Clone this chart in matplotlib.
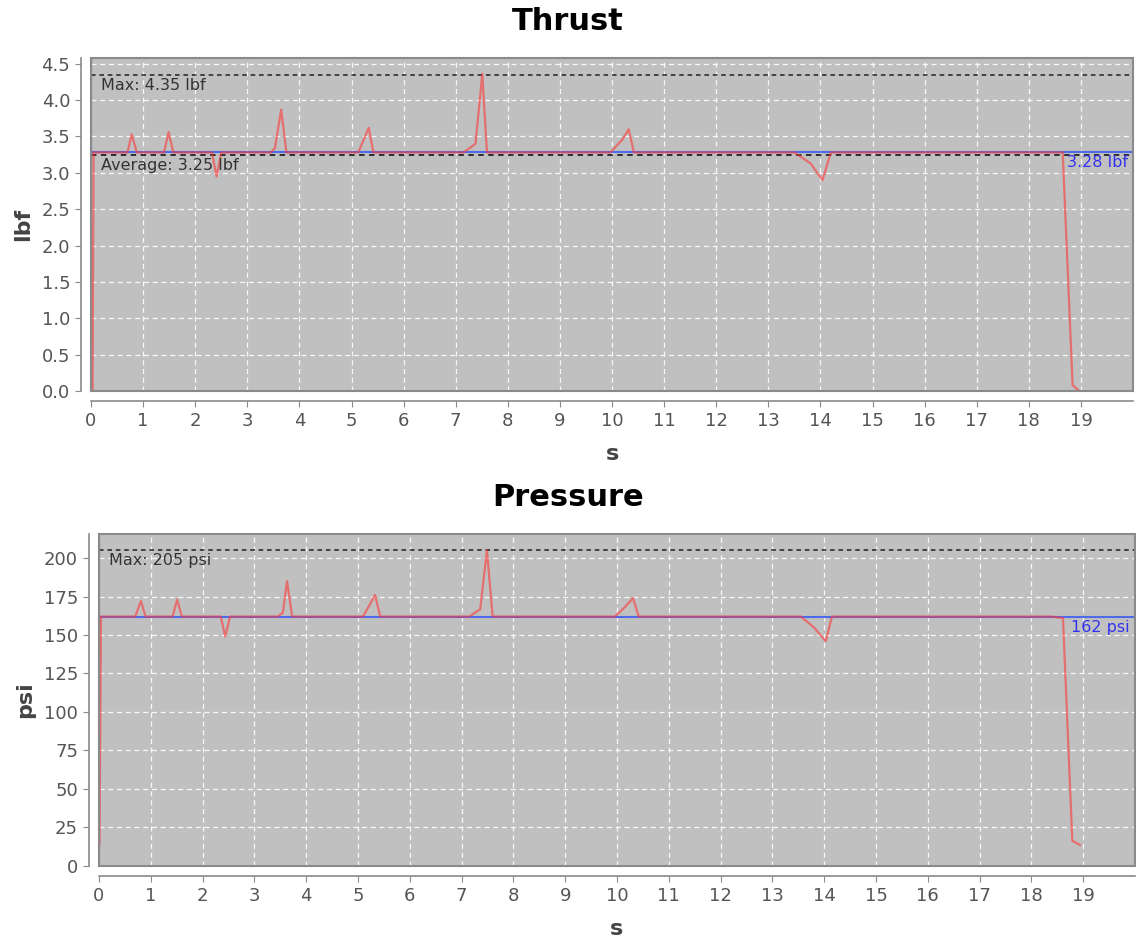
import matplotlib
matplotlib.use("Agg")
import matplotlib.pyplot as plt
from matplotlib.patches import Rectangle

# --- data ---
thrust_t = [0.03, 0.05, 0.70, 0.78, 0.88, 1.40, 1.49, 1.58, 2.32, 2.41, 2.50,
            3.45, 3.53, 3.65, 3.75, 5.13, 5.33, 5.42, 7.15, 7.38, 7.51, 7.60,
            9.97, 10.20, 10.32, 10.42, 13.50, 13.81, 14.04, 14.20, 18.65, 18.84, 18.97]
thrust_v = [0.0, 3.28, 3.28, 3.53, 3.28, 3.28, 3.56, 3.28, 3.28, 2.95, 3.28,
            3.28, 3.34, 3.87, 3.28, 3.28, 3.62, 3.28, 3.28, 3.40, 4.36, 3.28,
            3.28, 3.46, 3.60, 3.28, 3.28, 3.13, 2.90, 3.28, 3.28, 0.08, 0.0]
thrust_target = 3.28
thrust_avg = 3.25
thrust_max = 4.35

press_t = [0.01, 0.04, 0.70, 0.81, 0.90, 1.42, 1.51, 1.60, 2.35, 2.44, 2.53,
           3.45, 3.55, 3.63, 3.73, 5.10, 5.33, 5.43, 7.15, 7.36, 7.49, 7.60,
           9.96, 10.15, 10.31, 10.42, 13.55, 13.80, 14.03, 14.15, 18.38, 18.61, 18.79, 18.94]
press_v = [14, 162, 162, 172, 162, 162, 173, 162, 162, 149, 162,
           162, 164.5, 185, 162, 162, 176, 162, 162, 166.7, 205, 162,
           162, 168, 174, 162, 162, 155, 146, 162, 162, 161, 16.4, 13.6]
press_target = 162
press_max = 205

x_ticks = list(range(0, 20))
thrust_yticks = [0.0, 0.5, 1.0, 1.5, 2.0, 2.5, 3.0, 3.5, 4.0, 4.5]
press_yticks = [0, 25, 50, 75, 100, 125, 150, 175, 200]

RED = '#ff3838'
BLUE = '#4f6ae8'
GRAY_BG = '#c0c0c0'
EDGE = '#8a8a8a'
TXT = '#555555'

fig = plt.figure(figsize=(11.36, 9.38), dpi=100)
ax1 = fig.add_axes([0.0801, 0.5832, 0.9173, 0.3550])
ax2 = fig.add_axes([0.0871, 0.0768, 0.9120, 0.3539])


def style(ax, ylabel, yticks, ylim):
    ax.set_facecolor(GRAY_BG)
    ax.set_xlim(0, 20)
    ax.set_ylim(*ylim)
    ax.set_xticks(x_ticks)
    ax.set_yticks(yticks)
    if isinstance(yticks[1], float):
        ax.set_yticklabels([f"{v:.1f}" for v in yticks])
    ax.grid(True, color='white', ls=(0, (4, 3)), lw=0.9, alpha=0.9)
    ax.set_axisbelow(True)
    for s in ['top', 'right']:
        ax.spines[s].set_visible(False)
    for s in ['left', 'bottom']:
        ax.spines[s].set_position(('outward', 7))
        ax.spines[s].set_color(EDGE)
        ax.spines[s].set_linewidth(1.2)
    ax.add_patch(Rectangle((0, 0), 1, 1, transform=ax.transAxes, fill=False,
                           edgecolor=EDGE, lw=1.5, clip_on=False, zorder=10))
    ax.tick_params(direction='out', length=4, color=EDGE, labelsize=13,
                   labelcolor=TXT, pad=4)
    ax.set_xlabel('s', fontsize=16, fontweight='bold', color='#444444', labelpad=10)
    ax.set_ylabel(ylabel, fontsize=16, fontweight='bold', color='#444444', labelpad=6)


fig.text(0.5, 1 - 22 / 938, 'Thrust', ha='center', va='center',
         fontsize=22, fontweight='bold')
fig.text(0.5, 1 - 497 / 938, 'Pressure', ha='center', va='center',
         fontsize=22, fontweight='bold')

# Thrust
style(ax1, 'lbf', thrust_yticks, (0, 4.58))
ax1.axvline(0, color='#5a5aa8', lw=1.6, zorder=3)
ax1.axhline(thrust_target, color=BLUE, lw=1.5, zorder=3)
ax1.axhline(thrust_max, color='#222222', lw=1.1, ls=(0, (3, 2.5)), zorder=4)
ax1.axhline(thrust_avg, color='#222222', lw=1.3, ls=(0, (3, 2.5)), zorder=4)
ax1.plot(thrust_t, thrust_v, color=RED, lw=1.6, alpha=0.6, zorder=5)
ax1.text(0.2, thrust_max - 0.04, f"Max: {thrust_max} lbf", fontsize=11.5,
         color='#333333', va='top', ha='left', zorder=6)
ax1.text(0.2, thrust_avg - 0.04, f"Average: {thrust_avg} lbf", fontsize=11.5,
         color='#333333', va='top', ha='left', zorder=6)
ax1.text(19.9, thrust_target - 0.04, f"{thrust_target} lbf", fontsize=11.5,
         color='#3333ee', va='top', ha='right', zorder=6)

# Pressure
style(ax2, 'psi', press_yticks, (0, 215.6))
ax2.axvline(0, color='#5a5aa8', lw=1.6, zorder=3)
ax2.axhline(press_target, color=BLUE, lw=1.5, zorder=3)
ax2.axhline(press_max, color='#222222', lw=1.1, ls=(0, (3, 2.5)), zorder=4)
ax2.plot(press_t, press_v, color=RED, lw=1.6, alpha=0.6, zorder=5)
ax2.text(0.2, press_max - 2.0, f"Max: {press_max} psi", fontsize=11.5,
         color='#333333', va='top', ha='left', zorder=6)
ax2.text(19.9, press_target - 2.0, f"{press_target} psi", fontsize=11.5,
         color='#3333ee', va='top', ha='right', zorder=6)

fig.savefig('out.png', dpi=100)
